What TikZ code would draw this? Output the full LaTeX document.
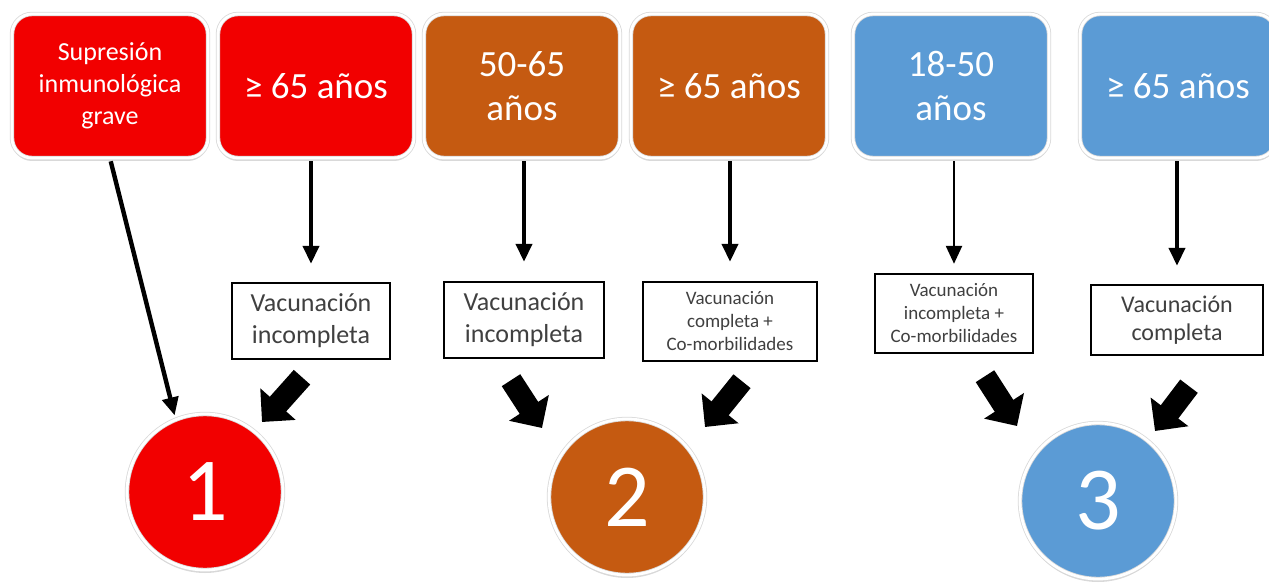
\documentclass[tikz,border=0pt]{standalone}
\usepackage{fontspec}
\setmainfont{Carlito}
\usetikzlibrary{arrows.meta}
\usetikzlibrary{positioning}
\usetikzlibrary{shadows}
\usetikzlibrary{calc}

\definecolor{riskred}{RGB}{242,0,0}
\definecolor{riskbrown}{RGB}{197,90,17}
\definecolor{riskblue}{RGB}{91,155,213}
\definecolor{vacgray}{RGB}{64,64,64}

\tikzset{
  agebox/.style={rounded corners=10pt, draw=black!15, line width=0.4pt,
    double=white, double distance=1.4pt,
    minimum width=98pt, minimum height=72pt, align=center, text=white,
    font=\fontsize{18.5}{22}\selectfont,
    drop shadow={shadow xshift=0pt, shadow yshift=-1.5pt, opacity=0.3}},
  vacbox/.style={draw=black, line width=1.2pt, fill=white, align=center,
    text=vacgray, inner sep=0pt},
  prio/.style={circle, draw=black!15, line width=0.4pt, double=white,
    double distance=1.4pt, minimum size=78pt,
    inner sep=0pt, text=white, font=\fontsize{45}{45}\selectfont,
    drop shadow={shadow xshift=0pt, shadow yshift=-1.5pt, opacity=0.3}},
  flow/.style={-{Triangle[width=8pt,length=9pt]}, line width=2pt},
  bigarrow/.style={-{Triangle[width=23pt,length=12pt]}, line width=11pt}
}

\begin{document}
\begin{tikzpicture}[x=0.5pt, y=-0.5pt]
  \useasboundingbox (0,0) rectangle (1269,583);

  \def\topy{86}

  % age groups
  \node[agebox, fill=riskred, font=\fontsize{13}{16}\selectfont] (t1) at (110,\topy) {Supresión\\inmunológica\\grave};
  \node[agebox, fill=riskred] (t2) at (316,\topy) {≥ 65 años};
  \node[agebox, fill=riskbrown] (t3) at (522,\topy) {50-65\\años};
  \node[agebox, fill=riskbrown] (t4) at (729,\topy) {≥ 65 años};
  \node[agebox, fill=riskblue] (t5) at (951,\topy) {18-50\\años};
  \node[agebox, fill=riskblue] (t6) at (1178,\topy) {≥ 65 años};

  % vaccination state
  \node[vacbox, minimum width=79pt, minimum height=38pt, font=\fontsize{13}{16}\selectfont] (v1) at (311,321) {Vacunación\\incompleta};
  \node[vacbox, minimum width=80pt, minimum height=38pt, font=\fontsize{13}{16}\selectfont] (v2) at (524,320) {Vacunación\\incompleta};
  \node[vacbox, minimum width=87pt, minimum height=39.5pt, font=\fontsize{9.5}{11.5}\selectfont] (v3) at (730,321.5) {Vacunación\\completa +\\Co-morbilidades};
  \node[vacbox, minimum width=79pt, minimum height=39.5pt, font=\fontsize{9.5}{11.5}\selectfont] (v4) at (954,313.5) {Vacunación\\incompleta +\\Co-morbilidades};
  \node[vacbox, minimum width=86pt, minimum height=35pt, font=\fontsize{12}{14}\selectfont] (v5) at (1177,320) {Vacunación\\completa};

  % priority groups
  \node[prio, fill=riskred] (c1) at (205,492) {1};
  \node[prio, fill=riskbrown] (c2) at (627,497) {2};
  \node[prio, fill=riskblue] (c3) at (1098,501) {3};

  % thin arrows
  \draw[flow, line width=2.2pt, shorten <=1.5pt, shorten >=2pt] (t1.south) -- (c1.112);
  \draw[flow, shorten <=1.5pt, shorten >=9pt] (t2.south -| v1.north) -- (v1.north);
  \draw[flow, shorten <=1.5pt, shorten >=9.5pt] (t3.south -| v2.north) -- (v2.north);
  \draw[flow, shorten <=1.5pt, shorten >=9.5pt] (t4.south -| v3.north) -- (v3.north);
  \draw[flow, line width=1.2pt, shorten <=1.5pt, shorten >=4.5pt] (t5.south -| v4.north) -- (v4.north);
  \draw[flow, shorten <=1.5pt, shorten >=9pt] (t6.south -| v5.north) -- (v5.north);

  % block arrows
  \draw[bigarrow] ([shift={(-9,17)}]v1.south) -- ([shift={(57,-70)}]c1.center);
  \draw[bigarrow] ([shift={(-13,21)}]v2.south) -- ([shift={(-85,-69)}]c2.center);
  \draw[bigarrow] ([shift={(12,19)}]v3.south) -- ([shift={(78,-70)}]c2.center);
  \draw[bigarrow] ([shift={(31,22)}]v4.south) -- ([shift={(-81,-75)}]c3.center);
  \draw[bigarrow] ([shift={(12,30)}]v5.south) -- ([shift={(57,-70)}]c3.center);
\end{tikzpicture}
\end{document}
